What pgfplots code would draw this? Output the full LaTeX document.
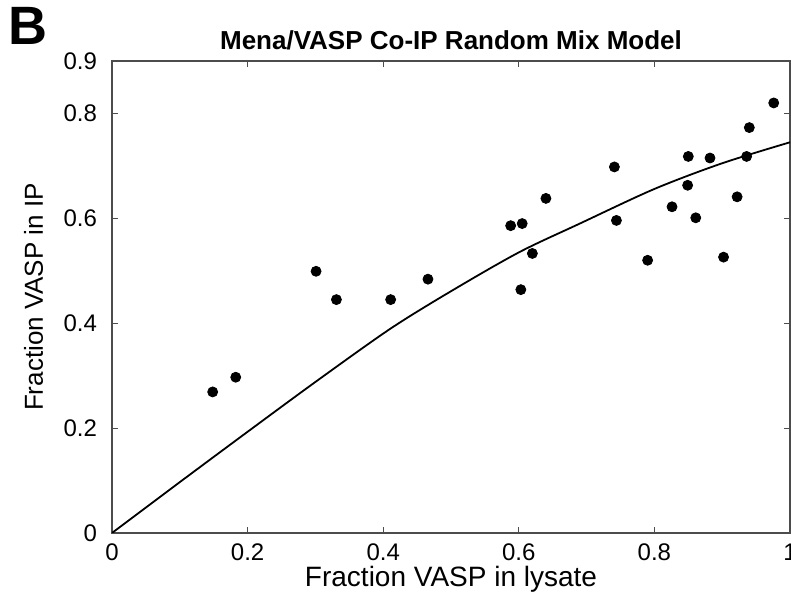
\documentclass[border=0pt]{standalone}
\usepackage{fontspec}
\setmainfont{Liberation Sans}
\usepackage{pgfplots}
\pgfplotsset{compat=1.18}
\begin{document}
\begin{tikzpicture}
\begin{axis}[
 scale only axis, width=339pt, height=236pt,
 xmin=0, xmax=1, ymin=0, ymax=0.9,
 xtick={0,0.2,0.4,0.6,0.8,1}, xticklabels={0,0.2,0.4,0.6,0.8,1},
 ytick={0,0.2,0.4,0.6,0.8,0.9}, yticklabels={0,0.2,0.4,0.6,0.8,0.9},
 tick align=inside, tick pos=both, major tick length=3pt,
 axis line style={line width=0.6pt, black!70},
 tick style={black!70, line width=0.5pt},
 ticklabel style={font=\fontsize{12}{14}\selectfont},
 xticklabel style={yshift=-2pt},
 yticklabel style={xshift=-4pt},
 xlabel={Fraction VASP in lysate},
 ylabel={Fraction VASP in IP},
 xlabel style={font=\fontsize{14}{16}\selectfont, at={([yshift=-27pt]axis description cs:0.5,0)}, anchor=base},
 ylabel style={font=\fontsize{13}{15}\selectfont, at={([xshift=-34.5pt]axis description cs:0,0.5)}, rotate=0, anchor=base},
 title={\bfseries Mena/VASP Co-IP Random Mix Model},
 title style={font=\fontsize{13}{15}\selectfont, at={([yshift=-0.5pt]axis description cs:0.5,1)}, anchor=base},
]
\addplot[black, line width=0.9pt, smooth] coordinates {
(0,0) (0.1,0.097) (0.2,0.193) (0.3,0.288) (0.41,0.389) (0.5,0.461) (0.6,0.535) (0.69,0.590) (0.8,0.656) (0.9,0.705) (1,0.745)
};
\addplot[only marks, mark=*, mark size=2.5pt, black] coordinates {
(0.1485,0.269) (0.1825,0.297) (0.301,0.499) (0.331,0.445) (0.411,0.445) (0.466,0.484)
(0.588,0.586) (0.605,0.590) (0.620,0.533) (0.603,0.464) (0.640,0.638) (0.741,0.698)
(0.744,0.596) (0.790,0.520) (0.826,0.622) (0.850,0.718) (0.849,0.663) (0.861,0.601)
(0.882,0.715) (0.902,0.526) (0.922,0.641) (0.936,0.718) (0.940,0.773) (0.976,0.820)
};
\coordinate (SW) at (rel axis cs:0,0);
\coordinate (NE) at (rel axis cs:1,1);
\coordinate (NW) at (rel axis cs:0,1);
\end{axis}
\node[anchor=base west, inner sep=0pt, font=\fontsize{27}{30}\selectfont\bfseries] at ([shift={(-52pt,8pt)}]NW) {B};
\pgfresetboundingbox
\path ([shift={(-56pt,-32.5pt)}]SW) rectangle ([shift={(0.5pt,30.5pt)}]NE);
\end{tikzpicture}
\end{document}
